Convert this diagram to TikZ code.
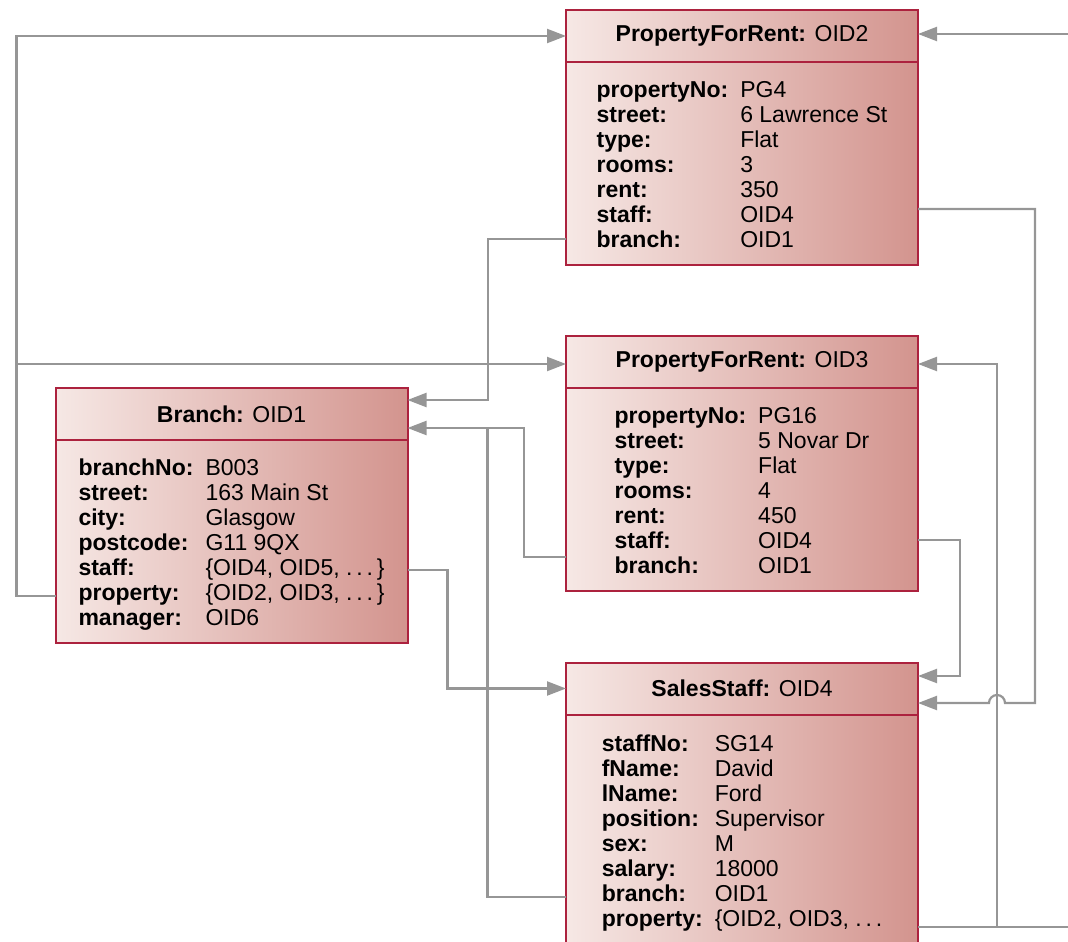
\documentclass[tikz,border=0pt]{standalone}
\usepackage{fontspec}
\setmainfont{Liberation Sans}
\usetikzlibrary{arrows.meta, positioning}
\definecolor{objborder}{RGB}{172, 34, 62}
\definecolor{objlight}{RGB}{246, 232, 229}
\definecolor{objdark}{RGB}{211, 148, 142}
\definecolor{linkgray}{RGB}{150, 150, 150}

\newcommand{\attrs}[2]{\raisebox{-4pt}[\height][\depth]{%
    \begin{tabular}{@{}l@{\hspace{#1}}l@{}}#2\end{tabular}}}

\tikzset{
    objbox/.style={draw=objborder, line width=2pt, left color=objlight, right color=objdark,
        minimum width=352pt, inner sep=0pt, outer sep=0pt,
        font=\fontsize{23pt}{25pt}\selectfont},
    objhead/.style={objbox, minimum height=52pt},
    objbody/.style={objbox, minimum height=#1},
    objbody/.default=203pt,
    link/.style={draw=linkgray, line width=2.2pt},
    ref/.style={link, -{Triangle[length=19pt, width=14pt]}}
}

\begin{document}
\begin{tikzpicture}[x=1pt, y=-1pt]
        \useasboundingbox (0,0) rectangle (1068,942);

        % objects
        \node[objhead] (h2) at (742,36) {\textbf{PropertyForRent:} OID2};
        \node[objbody, below=0pt of h2] (b2) {\attrs{12pt}{%
                \textbf{propertyNo:} & PG4\\
                \textbf{street:} & 6 Lawrence St\\
                \textbf{type:} & Flat\\
                \textbf{rooms:} & 3\\
                \textbf{rent:} & 350\\
                \textbf{staff:} & OID4\\
                \textbf{branch:} & OID1}};

        \node[objhead] (h3) at (742,362) {\textbf{PropertyForRent:} OID3};
        \node[objbody, below=0pt of h3] (b3) {\attrs{12pt}{%
                \textbf{propertyNo:} & PG16\\
                \textbf{street:} & 5 Novar Dr\\
                \textbf{type:} & Flat\\
                \textbf{rooms:} & 4\\
                \textbf{rent:} & 450\\
                \textbf{staff:} & OID4\\
                \textbf{branch:} & OID1}};

        \node[objhead] (h1) at (231.5,414) {\textbf{Branch:} OID1};
        \node[objbody, below=0pt of h1] (b1) {\attrs{12pt}{%
                \textbf{branchNo:} & B003\\
                \textbf{street:} & 163 Main St\\
                \textbf{city:} & Glasgow\\
                \textbf{postcode:} & G11 9QX\\
                \textbf{staff:} & \{OID4, OID5, .\,.\,.\,\}\\
                \textbf{property:} & \{OID2, OID3, .\,.\,.\,\}\\
                \textbf{manager:} & OID6}};

        \node[objhead] (h4) at (742,688.5) {\textbf{SalesStaff:} OID4};
        \node[objbody=231pt, below=0pt of h4] (b4) {\attrs{12pt}{%
                \textbf{staffNo:} & SG14\\
                \textbf{fName:} & David\\
                \textbf{lName:} & Ford\\
                \textbf{position:} & Supervisor\\
                \textbf{sex:} & M\\
                \textbf{salary:} & 18000\\
                \textbf{branch:} & OID1\\
                \textbf{property:} & \{OID2, OID3, .\,.\,.}};

        % attribute ends
        \coordinate (b1staff) at (b1.east |- 0,570);
        \coordinate (b1prop) at (b1.west |- 0,596);
        \coordinate (p2staff) at (b2.east |- 0,209);
        \coordinate (p2branch) at (b2.west |- 0,239);
        \coordinate (p3staff) at (b3.east |- 0,540);
        \coordinate (p3branch) at (b3.west |- 0,557);
        \coordinate (s4branch) at (b4.west |- 0,897);
        \coordinate (s4prop) at (b4.east |- 0,927);
        \coordinate (outA) at (1068,927);
        \coordinate (outB) at (1068,34);

        % references
        \draw[ref] (b1prop) -- ++(-39,0) coordinate (lcol) |- (h2.west);
        \draw[ref] (lcol) |- ([yshift=-2pt]h3.west);
        \draw[ref] (p2branch) -- ++(-78,0) |- ([yshift=14pt]h1.east);
        \draw[ref] (p3branch) -- ++(-42,0) |- ([yshift=-14pt]h1.east);
        \draw[link] (s4branch) -| ([xshift=80pt, yshift=-14pt]h1.east);
        \draw[ref] (b1staff) -- ++(40,0) |- (h4.west);
        \draw[ref] (p3staff) -- ++(42,0) |- ([yshift=12.5pt]h4.east);
        \draw[ref] (p2staff) -- ++(117,0) -- ++(0,494) -- ++(-30,0)
            arc[start angle=0, end angle=180, radius=8pt] -- ([yshift=-14.5pt]h4.east);
        \draw[link] (s4prop) -- ++(79,0) coordinate (rcol) -- (outA);
        \draw[ref] (rcol) |- ([yshift=-2pt]h3.east);
        \draw[ref] (outB) -- ([yshift=2pt]h2.east);
\end{tikzpicture}
\end{document}
